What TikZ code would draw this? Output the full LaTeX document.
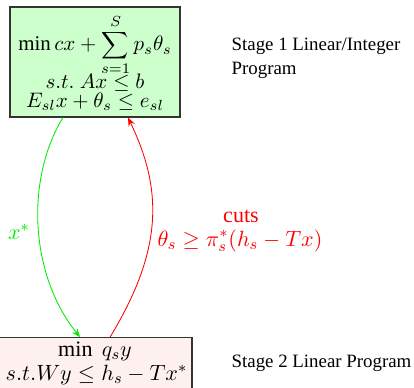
\RequirePackage{fix-cm}
\documentclass[tikz,border=0pt]{standalone}
\usepackage{fontspec}
\setmainfont{Liberation Serif}
\usetikzlibrary{arrows.meta}
\definecolor{boxgreen}{RGB}{204,255,204}
\definecolor{boxpink}{RGB}{255,240,240}
\definecolor{lgreen}{RGB}{0,235,0}
\definecolor{lred}{RGB}{255,0,0}
\tikzset{
  stagebox/.style={draw=black!80, line width=0.6pt, inner sep=0pt},
  mathline/.style={anchor=base, inner sep=0pt, font=\fontsize{11.1}{13}\selectfont},
  bigline/.style={anchor=base, inner sep=0pt, font=\fontsize{11.7}{13}\selectfont},
  stagelabel/.style={anchor=west, align=left, font=\fontsize{10}{13}\selectfont},
  flow/.style={line width=0.45pt, -{Stealth[length=4.5pt,width=3.6pt]}}
}
\begin{document}
\begin{tikzpicture}[x=0.53pt,y=-0.53pt]
\useasboundingbox (0,0) rectangle (414,388);
\node[stagebox, fill=boxgreen, minimum width=90.1pt, minimum height=58.3pt] (top) at (95,62) {};
\node[mathline] (t1) at (95,51) {$\displaystyle \min cx+\sum_{s=1}^{S} p_s\theta_s$};
\node[mathline] (t2) at (95,88.5) {$s.t.\ Ax\le b$};
\node[mathline] (t3) at (95,107.5) {$E_{sl}x+\theta_s\le e_{sl}$};
\node[stagebox, fill=boxpink, minimum width=102.3pt, minimum height=30pt] (bot) at (95.5,366) {};
\node[bigline] (b1) at (95,356) {$\min\ q_s y$};
\node[bigline] (b2) at (96.5,380.5) {$s.t. Wy\le h_s-Tx^*$};
\node[stagelabel] (s1) at (225,58.5) {Stage 1 Linear/Integer\\Program};
\node[stagelabel] (s2) at (225,363) {Stage 2 Linear Program};
\node[text=lgreen, font=\fontsize{11.7}{12}\selectfont] (xs) at (19,232) {$x^*$};
\node[bigline, text=lred] (cutlbl) at (241,222) {cuts};
\node[bigline, text=lred] (cutf) at (240,246) {$\theta_s\ge\pi_s^*(h_s-Tx)$};
\draw[flow, draw=lgreen] ([xshift=-17pt]top.south) .. controls (25,180) and (30,275) .. ([xshift=-8.2pt]bot.north);
\draw[flow, draw=lred] ([xshift=7.7pt]bot.north) .. controls (163,250) and (163,190) .. ([xshift=17.5pt]top.south);
\end{tikzpicture}
\end{document}
